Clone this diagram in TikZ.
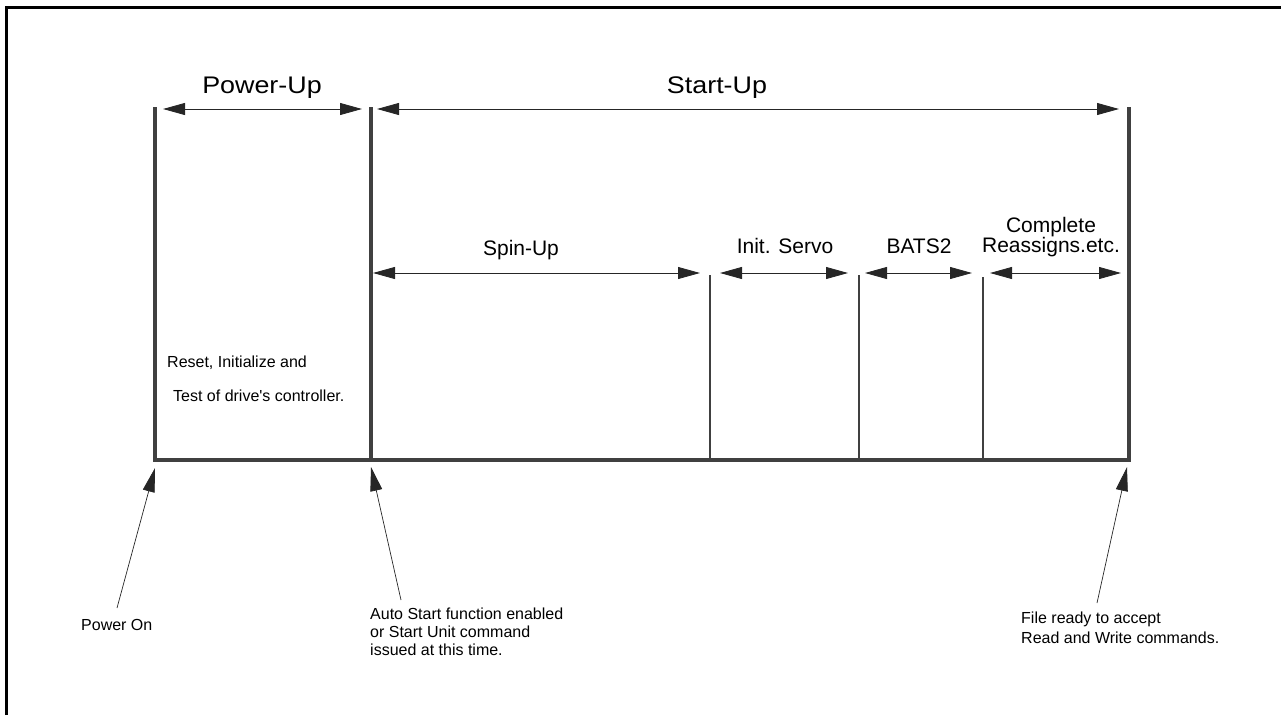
\documentclass[tikz,border=0pt]{standalone}
\usepackage{fontspec}
\setmainfont{Liberation Sans}
\newfontfamily\titlefont{Liberation Sans}[FakeStretch=1.12]
\usetikzlibrary{arrows.meta}
\begin{document}
\begin{tikzpicture}[x=1pt,y=-1pt,
  bar/.style={line width=4pt, draw=black!75},
  tbar/.style={line width=2pt, draw=black!75},
  span/.style={line width=0.8pt, draw=black!85, {Triangle[length=22pt,width=12pt]}-{Triangle[length=22pt,width=12pt]}},
  ptr/.style={line width=0.7pt, draw=black!85, -{Triangle[length=24pt,width=12pt]}},
  ttl/.style={font=\titlefont\fontsize{24}{28}\selectfont, anchor=base, inner sep=0},
  sub/.style={font=\fontsize{21}{20}\selectfont, anchor=base, inner sep=0, align=center},
  note/.style={font=\fontsize{16}{18}\selectfont, anchor=base west, inner sep=0, align=left},
]
\useasboundingbox (0,0) rectangle (1281,715);
% frame (top and left only)
\coordinate (fbl) at (6,715);
\coordinate (ftl) at (6,7.5);
\coordinate (ftr) at (1281,7.5);
\draw[line width=3pt] (fbl) -- (ftl) -- (ftr);

% timeline structure
\coordinate (p0t) at (155,107); \coordinate (p0b) at (155,460);
\coordinate (p1t) at (371,107); \coordinate (p1b) at (371,460);
\coordinate (p2t) at (1129,107); \coordinate (p2b) at (1129,460);
\coordinate (s1t) at (710,275); \coordinate (s1b) at (710,460);
\coordinate (s2t) at (859,275); \coordinate (s2b) at (859,460);
\coordinate (s3t) at (983,277); \coordinate (s3b) at (983,460);

\draw[bar, line join=miter] (p0t) -- (p0b) -- (p2b) -- (p2t);
\draw[bar] (p1t) -- (p1b);
\draw[tbar] (s1t) -- (s1b);
\draw[tbar] (s2t) -- (s2b);
\draw[tbar] (s3t) -- (s3b);

% span arrows
\coordinate (a1l) at (163,109); \coordinate (a1r) at (362,109);
\coordinate (a2l) at (377,109); \coordinate (a2r) at (1119,109);
\coordinate (b1l) at (373,273); \coordinate (b1r) at (700,273);
\coordinate (b2l) at (720,273); \coordinate (b2r) at (848,273);
\coordinate (b3l) at (865,273); \coordinate (b3r) at (972,273);
\coordinate (b4l) at (990,273); \coordinate (b4r) at (1121,273);
\draw[span] (a1l) -- (a1r);
\draw[span] (a2l) -- (a2r);
\draw[span] (b1l) -- (b1r);
\draw[span] (b2l) -- (b2r);
\draw[span] (b3l) -- (b3r);
\draw[span] (b4l) -- (b4r);

% labels
\node[ttl] (tpu) at (262,93) {Power-Up};
\node[ttl] (tsu) at (717,93) {Start-Up};
\node[sub] (tsp) at (521,255) {Spin-Up};
\node[sub] (tis) at (785,253) {Init. Servo};
\node[sub] (tba) at (919,253) {BATS2};
\node[sub] (tco) at (1051,252) {Complete\\Reassigns.etc.};

\node[note] (rst) at (167,367) {Reset, Initialize and};
\node[note] (tst) at (173,401) {Test of drive\textquotesingle s controller.};

% pointers
\coordinate (pot) at (155,468);
\coordinate (ast) at (371,467);
\coordinate (frt) at (1127,467);
\coordinate (poe) at (117,608);
\coordinate (ase) at (401,600);
\coordinate (fre) at (1097,603);
\draw[ptr] (poe) -- (pot);
\draw[ptr] (ase) -- (ast);
\draw[ptr] (fre) -- (frt);

\node[note] (pon) at (81,630) {Power On};
\node[note] (aut) at (370,655) {Auto Start function enabled\\or Start Unit command\\issued at this time.};
\node[note, font=\fontsize{16}{20}\selectfont] (fil) at (1021,643) {File ready to accept\\Read and Write commands.};
\end{tikzpicture}
\end{document}
